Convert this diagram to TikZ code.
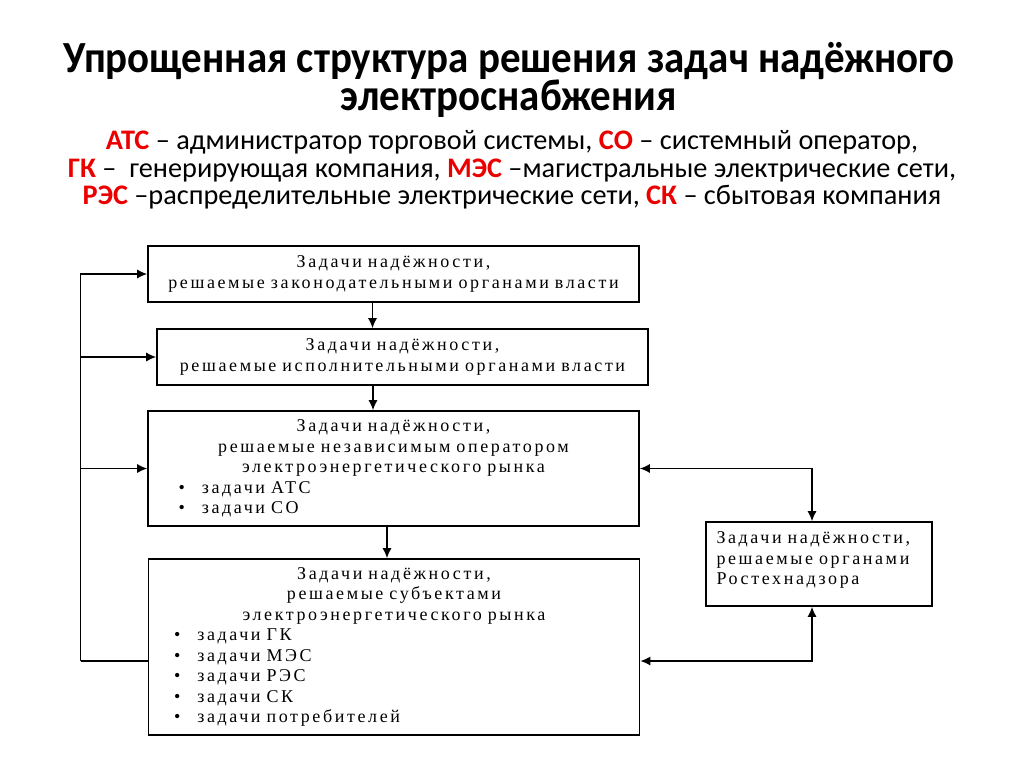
\documentclass[tikz,border=0pt]{standalone}
\usepackage{fontspec}
\setmainfont{Liberation Serif}
\newfontfamily\headfont{Carlito}
\newfontfamily\titlefont[FakeStretch=0.92]{Carlito}
\newfontfamily\taskfont[LetterSpace=14.5]{Liberation Serif}
\usepackage{xcolor}
\usetikzlibrary{arrows.meta, positioning, calc}
\definecolor{abbrred}{RGB}{235,0,0}
\newcommand\redabbr[1]{\textcolor{abbrred}{\bfseries #1}}

\begin{document}
\begin{tikzpicture}[
    x=1pt, y=-1pt,
    taskbox/.style={rectangle, draw, line width=1.6pt, inner sep=0pt, text width=470pt, minimum width=491pt, font=\taskfont\fontsize{18}{20.5}\selectfont},
    arrow/.style={-{Latex[length=10pt,width=9pt]}, line width=1.4pt},
    twoway/.style={{Latex[length=10pt,width=9pt]}-{Latex[length=10pt,width=9pt]}, line width=1.4pt},
    line/.style={draw, line width=1.4pt}
]
    \useasboundingbox (0,0) rectangle (1024,767);

    % Title and legend
    \node[font=\titlefont\bfseries\fontsize{44.5}{36}\selectfont, align=center, inner sep=0pt] (title) at (509,80) {Упрощенная структура решения задач надёжного\\электроснабжения};
    \node[font=\headfont\fontsize{28.3}{27.5}\selectfont, align=center, inner sep=0pt] (legend) at (512,170) {\redabbr{АТС} – администратор торговой системы, \redabbr{СО} – системный оператор,\\
        \redabbr{ГК} –\ \ генерирующая компания, \redabbr{МЭС} –магистральные электрические сети,\\
        \redabbr{РЭС} –распределительные электрические сети, \redabbr{СК} – сбытовая компания};

    % Boxes
    \node[taskbox, align=center, minimum height=56pt] (law) at (393.5,274) {Задачи надёжности,\\решаемые законодательными органами власти};
    \node[taskbox, align=center, minimum height=56pt] (exec) at (402.5,357) {Задачи надёжности,\\решаемые исполнительными органами власти};
    \node[taskbox, align=left, minimum height=115pt] (oper) at (393.5,468.5) {%
        \centerline{Задачи надёжности,}
        \centerline{решаемые независимым оператором}
        \centerline{электроэнергетического рынка}
        \noindent\hspace*{20pt}\textbullet\hspace{17pt}задачи АТС\\
        \hspace*{20pt}\textbullet\hspace{17pt}задачи СО};
    \node[taskbox, align=left, minimum height=176pt] (subj) at (394,647) {%
        \centerline{Задачи надёжности,}
        \centerline{решаемые субъектами}
        \centerline{электроэнергетического рынка}
        \noindent\hspace*{15pt}\textbullet\hspace{17pt}задачи ГК\\
        \hspace*{15pt}\textbullet\hspace{17pt}задачи МЭС\\
        \hspace*{15pt}\textbullet\hspace{17pt}задачи РЭС\\
        \hspace*{15pt}\textbullet\hspace{17pt}задачи СК\\
        \hspace*{15pt}\textbullet\hspace{17pt}задачи потребителей};
    \node[taskbox, align=left, text width=205pt, minimum width=226pt, minimum height=84pt] (rtn) at (819,564) {Задачи надёжности,\\решаемые органами\\Ростехнадзора\par\kern8pt};

    % Arrows between boxes
    \draw[arrow] ([xshift=-21pt]law.south) -- ([xshift=-21pt]law.south |- exec.north);
    \draw[arrow] ([xshift=-29.5pt]exec.south) -- ([xshift=-29.5pt]exec.south |- oper.north);
    \draw[arrow] ([xshift=-6.5pt]oper.south) -- ([xshift=-6.5pt]oper.south |- subj.north);

    % Feedback loop on the left
    \coordinate (spine) at ([xshift=-67pt,yshift=-14pt]subj.west);
    \draw[line] ([yshift=-14pt]subj.west) -- (spine);
    \draw[arrow] (spine) |- (law.west);
    \draw[arrow] (spine |- exec.west) -- (exec.west);
    \draw[arrow] (spine |- oper.west) -- (oper.west);

    % Links with Rostekhnadzor
    \draw[twoway] (oper.east) -| ([xshift=-7pt]rtn.north);
    \draw[twoway] ([yshift=-14pt]subj.east) -| ([xshift=-7pt]rtn.south);
\end{tikzpicture}
\end{document}
